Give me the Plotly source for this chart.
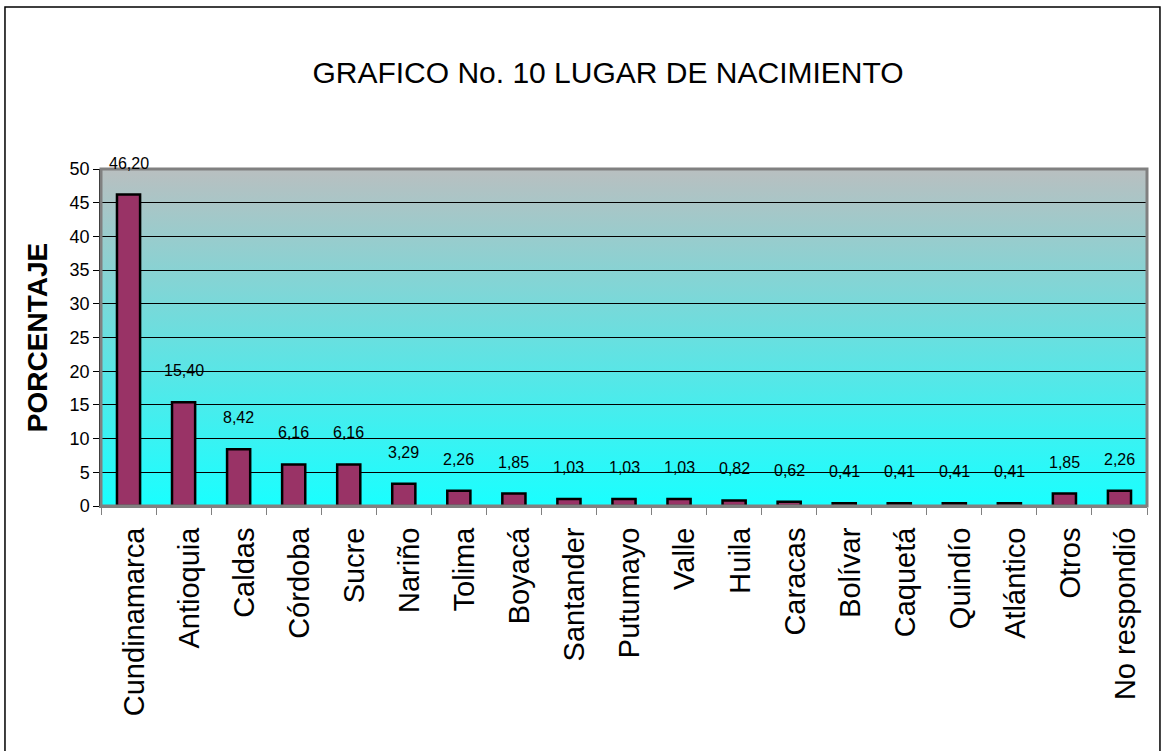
import base64
import plotly.graph_objects as go

# data
lugares = ["Cundinamarca", "Antioquia", "Caldas", "Córdoba", "Sucre", "Nariño",
           "Tolima", "Boyacá", "Santander", "Putumayo", "Valle", "Huila",
           "Caracas", "Bolívar", "Caquetá", "Quindío", "Atlántico", "Otros",
           "No respondió"]
porcentaje = [46.20, 15.40, 8.42, 6.16, 6.16, 3.29, 2.26, 1.85, 1.03, 1.03,
              1.03, 0.82, 0.62, 0.41, 0.41, 0.41, 0.41, 1.85, 2.26]
etiquetas = [("%.2f" % v).replace(".", ",") for v in porcentaje]
y_ticks = list(range(0, 55, 5))

ARIAL = "Liberation Sans, Arial"

# vertical gradient for the plot background (grey top -> cyan bottom)
svg = ('<svg xmlns="http://www.w3.org/2000/svg" width="10" height="100" preserveAspectRatio="none">'
       '<defs><linearGradient id="g" x1="0" y1="0" x2="0" y2="1">'
       '<stop offset="0" stop-color="#b9bfc0"/><stop offset="1" stop-color="#19ffff"/>'
       '</linearGradient></defs><rect width="10" height="100" fill="url(#g)"/></svg>')
bg_src = "data:image/svg+xml;base64," + base64.b64encode(svg.encode()).decode()

fig = go.Figure()
fig.add_trace(go.Bar(
    x=lugares, y=porcentaje,
    width=0.42,
    marker=dict(color="#993366", line=dict(color="black", width=2.5)),
    hoverinfo="x+y",
))

for lugar, v, t in zip(lugares, porcentaje, etiquetas):
    fig.add_annotation(x=lugar, y=v, text=t, showarrow=False,
                       yanchor="bottom", yshift=21,
                       font=dict(family=ARIAL, size=16, color="black"))

fig.add_layout_image(dict(source=bg_src, xref="x domain", yref="y domain",
                          x=0, y=1, sizex=1, sizey=1, xanchor="left", yanchor="top",
                          sizing="stretch", layer="below"))

# grey frame of plot area
fig.add_shape(type="rect", xref="x domain", yref="y domain", x0=0, x1=1, y0=0, y1=1,
              line=dict(color="#808080", width=3), layer="above")
# outer chart border
fig.add_shape(type="rect", xref="paper", yref="paper", x0=-0.0918, x1=1.0124,
              y0=-0.8, y1=1.4807, line=dict(color="black", width=1.5))

fig.update_layout(
    width=1163, height=751,
    margin=dict(l=101, r=16, t=169, b=245),
    paper_bgcolor="white",
    plot_bgcolor="rgba(0,0,0,0)",
    showlegend=False,
    title=dict(text="GRAFICO No. 10 LUGAR DE NACIMIENTO",
               font=dict(family=ARIAL, size=30, color="black"),
               x=0.4847, xref="paper", xanchor="center",
               y=1 - 72 / 751, yanchor="middle"),
)
fig.update_xaxes(
    type="category", tickangle=-90, tickson="boundaries",
    ticks="outside", ticklen=7, tickcolor="#808080",
    ticklabelstandoff=8, ticklabelshift=6,
    showline=True, linecolor="#808080", linewidth=2,
    tickfont=dict(family=ARIAL, size=29, color="black"),
    showgrid=False,
)
fig.update_yaxes(
    range=[0, 50], tickvals=y_ticks,
    ticks="outside", ticklen=6, tickcolor="black",
    showline=True, linecolor="black", linewidth=1.5,
    showgrid=True, gridcolor="black", gridwidth=1,
    zeroline=False,
    tickfont=dict(family=ARIAL, size=18, color="black"),
    title=dict(text="<b>PORCENTAJE</b>", standoff=14,
               font=dict(family=ARIAL, size=28, color="black")),
)

fig.write_html("out.html", config={"displayModeBar": False},
               post_script="document.body.style.margin='0px';")
